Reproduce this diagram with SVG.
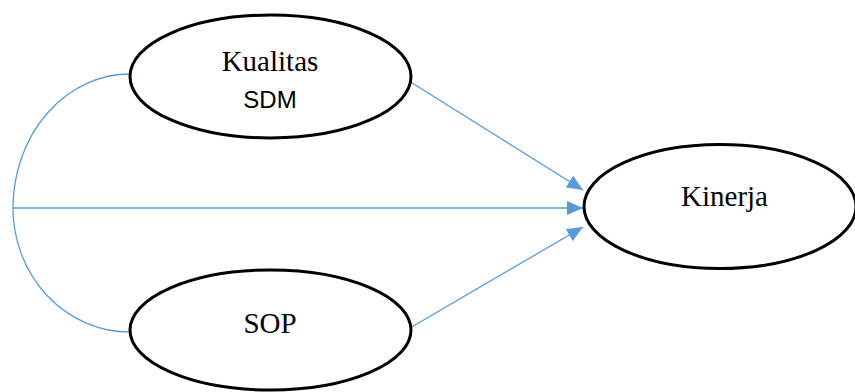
<svg xmlns="http://www.w3.org/2000/svg" width="855" height="392" viewBox="0 0 855 392">
<style>
.node{fill:#fff;stroke:#000;stroke-width:3}
.serif{font-family:"Liberation Serif","Times New Roman",serif;font-size:29px;fill:#000}
.sans{font-family:"Liberation Sans",Arial,sans-serif;font-size:24px;fill:#000}
.conn{fill:none;stroke:#5B9BD5;stroke-width:1.3}
</style>
<defs>
<marker id="ah" viewBox="0 0 16 14" refX="16" refY="7" markerWidth="16" markerHeight="14" markerUnits="userSpaceOnUse" orient="auto">
<path d="M0,0 L16,7 L0,14 Z" fill="#5B9BD5"/>
</marker>
</defs>
<g id="connectors">
<path class="conn" d="M130,74 A117,134 0 0 0 13,208 A117,124 0 0 0 130,332"/>
<line class="conn" x1="13" y1="208" x2="583" y2="208" marker-end="url(#ah)"/>
<line class="conn" x1="409" y1="81" x2="583" y2="190" marker-end="url(#ah)"/>
<line class="conn" x1="410" y1="328" x2="583" y2="227" marker-end="url(#ah)"/>
</g>
<g id="kualitas">
<ellipse class="node" cx="270.5" cy="76.5" rx="140.5" ry="61.5"/>
<text class="serif" x="270" y="71" text-anchor="middle">Kualitas</text>
<text class="sans" x="270" y="108" text-anchor="middle">SDM</text>
</g>
<g id="sop">
<ellipse class="node" cx="270.5" cy="330" rx="140.5" ry="60"/>
<text class="serif" x="270" y="333" text-anchor="middle">SOP</text>
</g>
<g id="kinerja">
<ellipse class="node" cx="720" cy="206.5" rx="136" ry="62"/>
<text class="serif" x="724.5" y="206" text-anchor="middle">Kinerja</text>
</g>
</svg>
